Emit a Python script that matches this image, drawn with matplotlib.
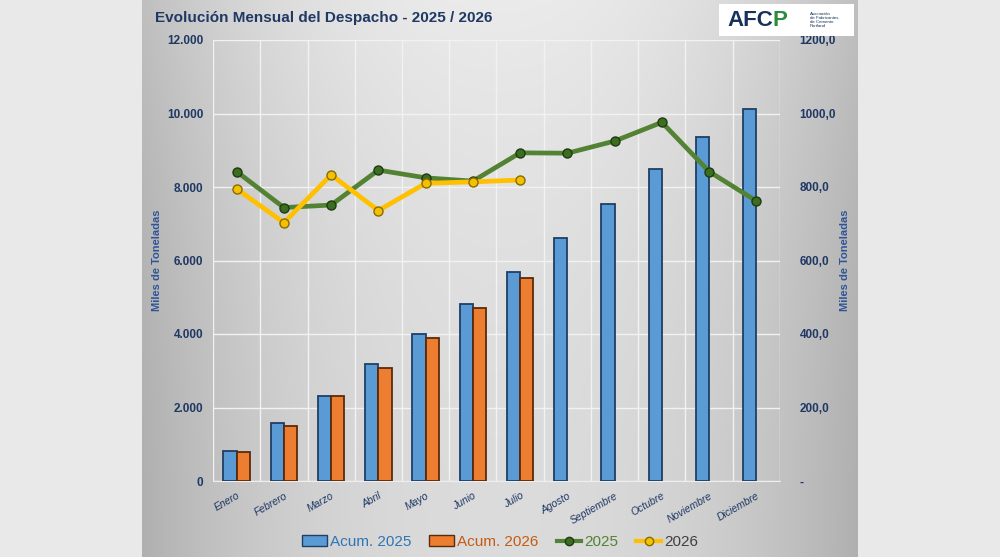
import numpy as np
import matplotlib
matplotlib.use("Agg")
import matplotlib.pyplot as plt
from matplotlib.patches import Patch, Rectangle
from matplotlib.lines import Line2D

# datos
meses = ["Enero", "Febrero", "Marzo", "Abril", "Mayo", "Junio", "Julio",
         "Agosto", "Septiembre", "Octubre", "Noviembre", "Diciembre"]
acum_2025 = [826, 1580, 2324, 3180, 4005, 4815, 5695, 6600, 7548, 8500, 9355, 10128]
acum_2026 = [790, 1499, 2324, 3071, 3888, 4695, 5512]
mens_2025 = [842, 744, 751, 846, 825, 816, 893, 892, 925, 976, 842, 762]
mens_2026 = [795, 703, 833, 736, 810, 814, 819]

NAVY = "#1F3864"
AXBLUE = "#2F5597"
FONT = ["Liberation Sans", "DejaVu Sans"]

fig = plt.figure(figsize=(10, 5.57), dpi=100)
fig.patch.set_facecolor("#e9e9e9")

# fondo gris del panel (degradado)
bg = fig.add_axes([0.142, 0, 0.716, 1], zorder=-10)
xx, yy = np.meshgrid(np.linspace(-1, 1, 300), np.linspace(0, 1, 200))
shade = 0.69 + 0.17 * (1 - np.abs(xx) ** 2.2) + 0.06 * (1 - yy) ** 2
bg.imshow(np.dstack([shade] * 3).clip(0, 1), aspect="auto", extent=[0, 1, 0, 1])
bg.axis("off")

ax = fig.add_axes([0.213, 76 / 557, 0.567, 441 / 557])
ax.patch.set_alpha(0)
x = np.arange(len(meses))
x26 = np.arange(len(acum_2026))
w = 0.28

ax.bar(x - w / 2, acum_2025, w, color="#5B9BD5", edgecolor="#1f3f66", linewidth=1.3, zorder=3)
ax.bar(x26 + w / 2, acum_2026, w, color="#ED7D31", edgecolor="#5a2a0a", linewidth=1.3, zorder=3)

ax.set_xlim(-0.5, 11.5)
ax.set_ylim(0, 12000)
ax.set_yticks(np.arange(0, 12001, 2000))
ax.set_yticklabels([f"{v:,.0f}".replace(",", ".") for v in range(0, 12001, 2000)],
                   color=NAVY, fontsize=8.5, fontweight="bold", family=FONT)
ax.set_xticks(x)
ax.set_xticklabels(meses, rotation=30, ha="right", va="top", rotation_mode="anchor",
                   color=NAVY, fontsize=7.5, style="italic", family=FONT)
ax.set_xticks(np.arange(-0.5, 12, 1), minor=True)
ax.tick_params(which="both", length=0)
ax.tick_params(axis="y", pad=7)
ax.tick_params(axis="x", pad=7)
ax.grid(True, axis="y", color="#f2f2f2", linewidth=1, zorder=0)
ax.grid(True, axis="x", which="minor", color="#f2f2f2", linewidth=1, zorder=0)
for s in ax.spines.values():
    s.set_visible(False)
ax.spines["bottom"].set_visible(True)
ax.spines["bottom"].set_color("#eeeeee")
ax.set_ylabel("Miles de Toneladas", color=AXBLUE, fontsize=8, fontweight="bold", family=FONT)
ax.yaxis.set_label_coords(-0.09, 0.5)

ax2 = ax.twinx()
ax2.set_ylim(0, 1200)
ax2.plot(x, mens_2025, color="#548235", lw=3.4, marker="o", ms=6.5,
         mfc="#3c6e22", mec="#1e3a10", zorder=5)
ax2.plot(x26, mens_2026, color="#FFC000", lw=3.4, marker="o", ms=6.5,
         mfc="#f2c200", mec="#8a6a00", zorder=5)
ax2.set_yticks(np.arange(0, 1201, 200))
ax2.set_yticklabels(["-"] + [f"{v:.1f}".replace(".", ",") for v in range(200, 1201, 200)],
                    color=NAVY, fontsize=8.5, fontweight="bold", family=FONT)
ax2.tick_params(length=0, pad=14)
for s in ax2.spines.values():
    s.set_visible(False)
ax2.set_ylabel("Miles de Toneladas", color=AXBLUE, fontsize=8, fontweight="bold", family=FONT)
ax2.yaxis.set_label_coords(1.105, 0.5)

fig.text(0.155, 1 - 18 / 557, "Evolución Mensual del Despacho - 2025 / 2026", color=NAVY,
         fontsize=11, fontweight="bold", family=FONT, va="center", ha="left")

# logo
fig.patches.append(Rectangle((0.719, 1 - 36 / 557), 0.135, 32 / 557, transform=fig.transFigure,
                             facecolor="white", edgecolor="none", zorder=5))
afc = fig.text(0.727, 1 - 20 / 557, "AFC", color="#17325a", fontsize=16, fontweight="bold",
               family=FONT, va="center", ha="left", zorder=6)
fig.canvas.draw()
bb = afc.get_window_extent().transformed(fig.transFigure.inverted())
fig.text(bb.x1, 1 - 20 / 557, "P", color="#2e8b3e", fontsize=16, fontweight="bold",
         family=FONT, va="center", ha="left", zorder=6)
fig.text(0.810, 1 - 20 / 557, "Asociación\nde Fabricantes\nde Cemento\nPortland", color="#17325a",
         fontsize=3.2, family=FONT, va="center", ha="left", linespacing=1.1, zorder=6)

handles = [
    Patch(facecolor="#5B9BD5", edgecolor="#1f3f66"),
    Patch(facecolor="#ED7D31", edgecolor="#5a2a0a"),
    Line2D([], [], color="#548235", lw=3, marker="o", ms=6, mfc="#3c6e22", mec="#1e3a10"),
    Line2D([], [], color="#FFC000", lw=3, marker="o", ms=6, mfc="#f2c200", mec="#8a6a00"),
]
leg = fig.legend(handles, ["Acum. 2025", "Acum. 2026", "2025", "2026"], loc="center",
                 bbox_to_anchor=(0.5, 1 - 542 / 557), ncol=4, frameon=False,
                 prop={"family": FONT, "size": 11}, handlelength=1.6, handletextpad=0.2,
                 columnspacing=1.2)
for t, c in zip(leg.get_texts(), ["#2E75B6", "#C55A11", "#548235", "#404040"]):
    t.set_color(c)

fig.savefig("out.png", dpi=100)
